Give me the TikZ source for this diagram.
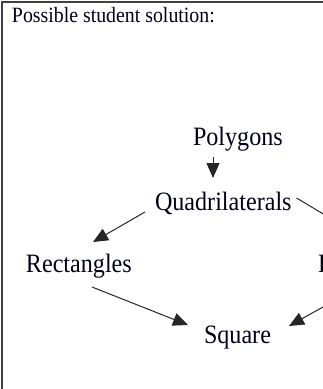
\documentclass[tikz,border=0pt]{standalone}
\usepackage{fontspec}
\setmainfont{Liberation Serif}[FakeStretch=0.91]
\usetikzlibrary{arrows.meta,calc}
\begin{document}
\begin{tikzpicture}[x=1pt,y=-1pt,
  lbl/.style={inner sep=0pt,outer sep=0pt,anchor=base west,font=\fontsize{26.5}{30}\selectfont,text=black!90!blue},
  hdr/.style={inner sep=0pt,outer sep=0pt,anchor=base west,font=\fontsize{21.8}{24}\selectfont,text=black!90!blue},
  arr/.style={line width=1pt,draw=black!85,-{Triangle[length=15pt,width=13pt]}},
  frame/.style={line width=2pt,draw=black!75}]
\useasboundingbox (0,0) rectangle (323,389);
\clip (0,0) rectangle (323,389);
\draw[frame] (1.5,389) -- (1.5,1.5) -- (323,1.5);
\node[hdr] (H) at (12,22.5) {Possible student solution:};
\node[lbl] (P) at (193,145) {Polygons};
\node[lbl] (Q) at (155,210) {Quadrilaterals};
\node[lbl] (R) at (26,272) {Rectangles};
\node[lbl] (Rh) at (318,272) {Rhombus};
\node[lbl] (S) at (204,343) {Square};
\draw[arr] ($(P.base west)+(20,12)$) -- ($(Q.base west)+(58,-32)$);
\draw[arr] ($(Q.base west)+(-10,2)$) -- ($(R.base west)+(67,-30)$);
\draw[arr] ($(Q.base east)+(5,-12)$) -- ($(Rh.base west)+(42,-36)$);
\draw[arr] ($(R.base west)+(66,15)$) -- ($(S.base west)+(-16,-18)$);
\draw[arr] ($(Rh.base west)+(22,25.5)$) -- ($(S.base west)+(85,-17)$);
\end{tikzpicture}
\end{document}
